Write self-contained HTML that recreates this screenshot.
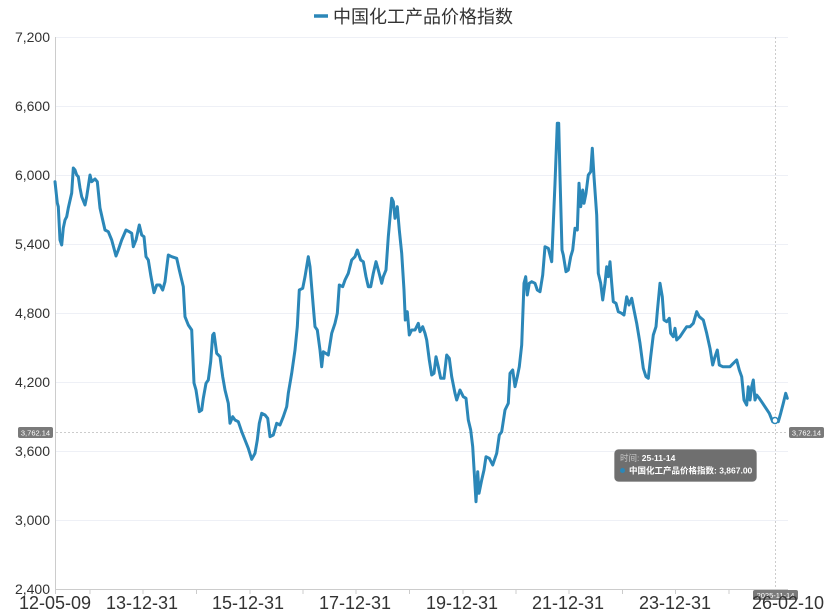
<!DOCTYPE html>
<html><head><meta charset="utf-8"><style>
html,body{margin:0;padding:0;background:#fff;}
svg{display:block;}
</style></head><body>
<svg width="831" height="614" viewBox="0 0 831 614" xmlns="http://www.w3.org/2000/svg">
<rect width="831" height="614" fill="#fff"/>
<!-- legend -->
<line x1="314" y1="16" x2="328" y2="16" stroke="#2b87b8" stroke-width="3.5"/>
<text x="333" y="23" font-family="'Liberation Sans','Noto Sans CJK SC',sans-serif" font-size="18" fill="#333">中国化工产品价格指数</text>
<!-- grid -->
<g stroke="#eef0f6" stroke-width="1">
<line x1="56" y1="37.5" x2="788" y2="37.5"/>
<line x1="56" y1="106.5" x2="788" y2="106.5"/>
<line x1="56" y1="175.5" x2="788" y2="175.5"/>
<line x1="56" y1="244.5" x2="788" y2="244.5"/>
<line x1="56" y1="313.5" x2="788" y2="313.5"/>
<line x1="56" y1="382.5" x2="788" y2="382.5"/>
<line x1="56" y1="451.5" x2="788" y2="451.5"/>
<line x1="56" y1="520.5" x2="788" y2="520.5"/>
</g>
<!-- axes -->
<line x1="55.5" y1="37" x2="55.5" y2="589" stroke="#ccc" stroke-width="1"/>
<line x1="55" y1="589.5" x2="788" y2="589.5" stroke="#ccc" stroke-width="1"/>
<g stroke="#ccc" stroke-width="1">
<line x1="55.5" y1="589" x2="55.5" y2="594"/>
<line x1="90" y1="589" x2="90" y2="594"/>
<line x1="143" y1="589" x2="143" y2="594"/>
<line x1="196.5" y1="589" x2="196.5" y2="594"/>
<line x1="250" y1="589" x2="250" y2="594"/>
<line x1="303" y1="589" x2="303" y2="594"/>
<line x1="356" y1="589" x2="356" y2="594"/>
<line x1="409.5" y1="589" x2="409.5" y2="594"/>
<line x1="463" y1="589" x2="463" y2="594"/>
<line x1="516" y1="589" x2="516" y2="594"/>
<line x1="569" y1="589" x2="569" y2="594"/>
<line x1="622.5" y1="589" x2="622.5" y2="594"/>
<line x1="675.5" y1="589" x2="675.5" y2="594"/>
<line x1="729" y1="589" x2="729" y2="594"/>
<line x1="782" y1="589" x2="782" y2="594"/>
</g>
<!-- y labels -->
<g font-family="'Liberation Sans',sans-serif" font-size="14" fill="#333" text-anchor="end">
<text x="50" y="42">7,200</text>
<text x="50" y="111">6,600</text>
<text x="50" y="180">6,000</text>
<text x="50" y="249">5,400</text>
<text x="50" y="318">4,800</text>
<text x="50" y="387">4,200</text>
<text x="50" y="456">3,600</text>
<text x="50" y="525">3,000</text>
<text x="50" y="594">2,400</text>
</g>
<!-- crosshair -->
<line x1="56" y1="432.5" x2="788" y2="432.5" stroke="#ccc" stroke-width="1" stroke-dasharray="2,2"/>
<line x1="775.5" y1="37" x2="775.5" y2="589" stroke="#ccc" stroke-width="1" stroke-dasharray="2,2"/>
<!-- series -->
<polyline fill="none" stroke="#2b87b8" stroke-width="3" stroke-linejoin="round" stroke-linecap="round" points="55,181.7 57.3,203 58.3,206.7 60,240 61.7,245 63.3,228 65,220 66.7,216.7 68.3,208 71.7,193 73.3,168 75,170 76.7,175 78.3,176.7 80,188 81.7,196.7 85,205 86.7,196.7 90,175 91.7,181.7 95,179 97.3,181.7 100,208 102.7,220 105,230 108.3,231.7 111.7,240 116,256 118.3,250 121.7,240 126,230 129.3,231.7 131.7,233.3 133.3,246.7 136,240 139.3,225 141.7,235 144,236.7 146,256.7 148.3,260 151,276.7 154,292.7 156.7,285 160,285 162.7,290 165,281.7 168.3,255 171.7,256.7 176.7,258.3 179.3,270 183.3,286.7 185,316.7 188.3,325 191.7,330 194,383 196,390 199.3,411.7 201.7,410 203.3,398.3 206,383.3 208.3,380 210.7,361.7 212.7,335 214,333.3 216.7,353.3 220,356.7 222.7,376.7 225,390 228.3,403.3 230,423.3 232.7,416.7 235,420 238.3,421.7 241.7,431.7 245,440 248.3,448.3 251.7,459.3 255,453.3 257.3,440 259.3,423.3 261.7,413.3 265,415 267.7,418.3 270,436.7 273.3,435 276.7,423.3 280,425 283.3,416.7 286.7,406.7 288.3,393.3 291.7,373.3 295,350 297.3,326.7 299.3,290 302.7,288.3 305,276.7 308.3,256.7 310,266.7 313.3,306.7 315,326.7 317.3,330 320,350 321.7,366.7 323.3,351.7 328.3,355 331.7,333.3 335,323.3 337.3,313.3 339.3,285 342.7,286.7 345,280 348.3,273.3 351.7,260 355,256.7 357.3,250 360.7,260 363.3,261.7 366,276.7 368.3,286.7 370.7,286.7 373.3,273.3 376,261.7 378.3,270 381.7,283.3 383.3,276.7 386,270 388.3,236.7 391.7,198.3 393.3,201.7 395,218.3 397.3,206.7 399.3,230 401.7,253.3 404,290 405.3,320 407.3,311.7 409.3,335 411.7,330 415,330 418.3,323.3 420,331.7 422.7,326.7 425,333.3 426.7,340 429.3,360 431.7,375 434,373.3 436,356.7 438.3,366.7 440.7,378.3 444,378.3 446.7,355 449.3,358.3 451.7,376.7 455,393.3 456.7,400 460,390 463.3,396.7 466,398.3 468.3,420 470.7,430 472.7,446.7 474.3,473.3 476,501.7 477.7,471.7 479,493.3 481.7,480 484,470 486,456.7 489.3,458.3 492.7,465 496.7,453.3 499.3,435 501.7,431.7 505,410 508.3,403.3 510,373.3 512.7,370 515,386.7 517.3,376.7 519.3,366.7 521.7,345 524,283.3 525.7,276.7 527.3,295 529.3,283.3 531.7,281.7 535,283.3 537.3,290 540,291.7 542.7,275 545,246.7 548.3,248.3 551.7,261.7 553.3,223.3 555,183.3 557.3,123.3 558.7,123.3 560,176.7 562,250 563.3,255 566,271.7 568.3,270 570.7,256.7 572.7,250 575,228.3 577.3,230 579,183.3 580.7,206.7 582.7,190 584,203.3 586,193.3 588.3,175 590.7,171.7 592.3,148.3 594,176.7 596.7,215 598.3,273.3 600.7,283.3 602.7,300 605,283.3 606.7,266.7 608.3,276.7 610,261.7 611.7,283.3 613.3,301.7 616,303.3 618.3,311.7 621.7,313.3 624,315 626.7,296.7 629,305 631.7,298.3 634,310 636.7,323.3 640,343.3 643.3,368.3 646,376.7 648.3,378.3 650.7,356.7 653.3,335 656,326.7 657.3,311.7 660,283.3 662.3,296.7 664,320 666.7,321.7 669.3,318.3 670.7,333.3 673.3,336.7 675,328.3 676.7,340 680,336.7 683.3,331.7 686.7,326.7 690,326.7 693.3,323.3 696.7,311.7 699.3,316.7 703.3,320 706.7,333.3 710,348.3 712.7,365 715,356.7 717.3,350 719.3,365 722.7,366.7 726.7,366.7 730,366.7 733.3,363.3 736.7,360 739.3,370 741.7,376.7 744,400 746.7,405 748.3,386.7 750,400 751.7,386.7 753.3,380 755,400 756.7,395 759.3,398.3 762.7,403.3 766,408.3 769.3,413.3 772.7,421.7 775,420 778.3,421.7 780.7,413.3 783.3,403.3 785.7,393.3 787.3,398.3"/>
<circle cx="775" cy="420.5" r="3" fill="#fff" stroke="#2b87b8" stroke-width="1.5"/>
<!-- axis pointer labels -->
<rect x="18" y="427" width="35" height="11" rx="2" fill="#7a7a7a"/>
<text x="35.5" y="435.5" font-family="'Liberation Sans',sans-serif" font-size="7.5" fill="#fff" text-anchor="middle">3,762.14</text>
<rect x="789" y="427" width="35" height="11" rx="2" fill="#7a7a7a"/>
<text x="806.5" y="435.5" font-family="'Liberation Sans',sans-serif" font-size="7.5" fill="#fff" text-anchor="middle">3,762.14</text>
<rect x="753" y="590" width="45" height="10" rx="2" fill="#7a7a7a"/>
<text x="775.5" y="598" font-family="'Liberation Sans',sans-serif" font-size="7.5" fill="#fff" text-anchor="middle">2025-11-14</text>
<!-- x labels -->
<g font-family="'Liberation Sans',sans-serif" font-size="18" fill="#333" text-anchor="middle">
<text x="55" y="609">12-05-09</text>
<text x="142" y="609">13-12-31</text>
<text x="248" y="609">15-12-31</text>
<text x="355" y="609">17-12-31</text>
<text x="462" y="609">19-12-31</text>
<text x="568" y="609">21-12-31</text>
<text x="675" y="609">23-12-31</text>
<text x="788" y="609">26-02-10</text>
</g>
<!-- tooltip -->
<rect x="614.5" y="449.5" width="142" height="32" rx="4" fill="#6f6f6f" stroke="#888" stroke-width="0.5"/>
<text x="620" y="461" font-family="'Liberation Sans','Noto Sans CJK SC',sans-serif" font-size="8.5" fill="#c8c8c8">时间: <tspan fill="#fff" font-weight="bold">25-11-14</tspan></text>
<circle cx="622.5" cy="470.5" r="2.5" fill="#2b87b8"/>
<text x="629" y="473.5" font-family="'Liberation Sans','Noto Sans CJK SC',sans-serif" font-size="8.5" fill="#fff" font-weight="bold">中国化工产品价格指数: 3,867.00</text>
</svg>
</body></html>
